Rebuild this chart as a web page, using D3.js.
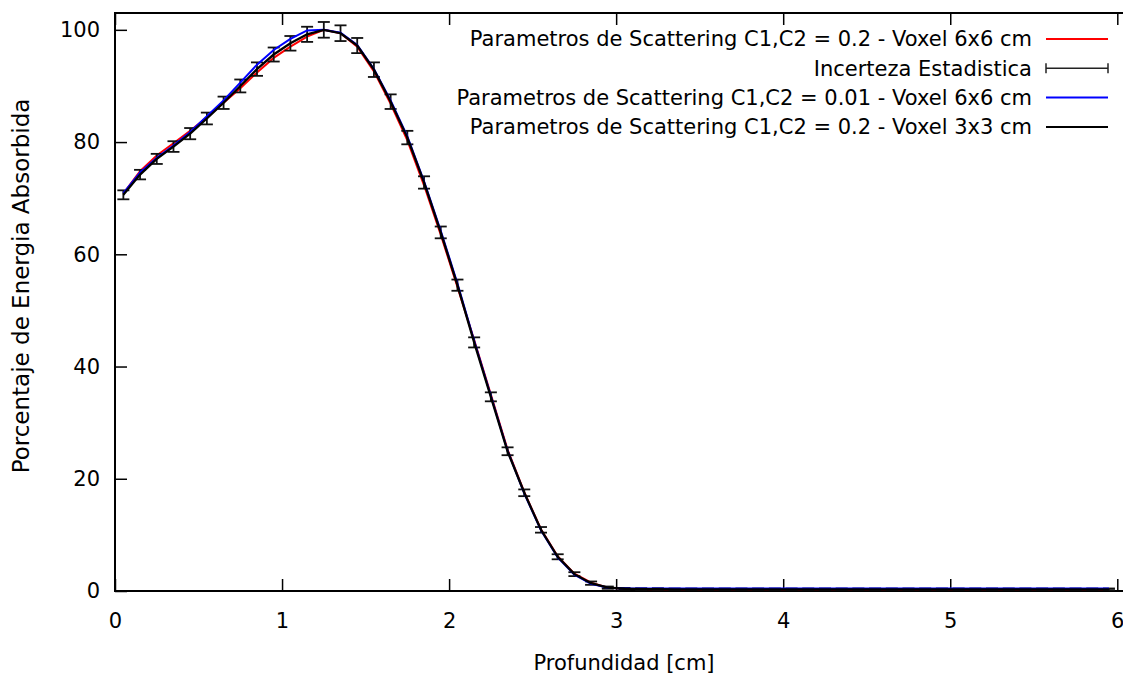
<!DOCTYPE html>
<html>
<head>
<meta charset="utf-8">
<script src="https://cdn.jsdelivr.net/npm/d3@7"></script>
<style>
  body { margin: 0; background: #fff; }
  text { font-family: "DejaVu Sans", Verdana, sans-serif; }
</style>
</head>
<body>
<div id="chart"></div>
<script>
// profundidad (cm), centro de cada bin de 1 mm
const depth = [
  0.05, 0.15, 0.25, 0.35, 0.45, 0.55, 0.65, 0.75, 0.85, 0.95,
  1.05, 1.15, 1.25, 1.35, 1.45, 1.55, 1.65, 1.75, 1.85, 1.95,
  2.05, 2.15, 2.25, 2.35, 2.45, 2.55, 2.65, 2.75, 2.85, 2.95,
  3.05, 3.15, 3.25, 3.35, 3.45, 3.55, 3.65, 3.75, 3.85, 3.95,
  4.05, 4.15, 4.25, 4.35, 4.45, 4.55, 4.65, 4.75, 4.85, 4.95,
  5.05, 5.15, 5.25, 5.35, 5.45, 5.55, 5.65, 5.75, 5.85, 5.95,
];

// C1,C2 = 0.2 - voxel 6x6 cm
const red = [
  70.8, 74.8, 77.6, 79.8, 82.0, 84.4, 87.0, 89.6, 92.4, 95.0,
  97.0, 98.8, 100.0, 99.4, 97.0, 92.6, 86.8, 80.3, 72.3, 63.5,
  54.2, 44.7, 35.0, 25.2, 17.6, 11.0, 6.2, 3.1, 1.5, 0.6,
  0.4, 0.35, 0.3, 0.3, 0.3, 0.3, 0.3, 0.3, 0.3, 0.3,
  0.3, 0.3, 0.3, 0.3, 0.3, 0.3, 0.3, 0.3, 0.3, 0.3,
  0.3, 0.3, 0.3, 0.3, 0.3, 0.3, 0.3, 0.3, 0.3, 0.3,
];

// C1,C2 = 0.01 - voxel 6x6 cm
const blue = [
  70.9, 74.6, 77.2, 79.4, 81.8, 84.6, 87.4, 90.6, 93.8, 96.4,
  98.4, 99.9, 100.0, 99.5, 97.3, 93.0, 87.4, 81.0, 73.0, 64.2,
  54.8, 44.6, 34.8, 25.0, 17.4, 10.8, 6.0, 2.9, 1.3, 0.6,
  0.45, 0.45, 0.45, 0.45, 0.45, 0.45, 0.45, 0.45, 0.45, 0.45,
  0.45, 0.45, 0.45, 0.45, 0.45, 0.45, 0.45, 0.45, 0.45, 0.45,
  0.45, 0.45, 0.45, 0.45, 0.45, 0.45, 0.45, 0.45, 0.45, 0.45,
];

// C1,C2 = 0.2 - voxel 3x3 cm
const black = [
  70.6, 74.2, 77.0, 79.2, 81.5, 84.2, 87.0, 90.0, 93.0, 95.6,
  97.6, 99.2, 100.0, 99.4, 97.2, 92.9, 87.2, 80.8, 72.8, 63.9,
  54.5, 44.3, 34.6, 24.9, 17.5, 10.9, 6.1, 3.0, 1.4, 0.6,
  0.4, 0.35, 0.35, 0.3, 0.3, 0.3, 0.3, 0.3, 0.3, 0.3,
  0.3, 0.3, 0.3, 0.3, 0.3, 0.3, 0.3, 0.3, 0.3, 0.3,
  0.3, 0.3, 0.3, 0.3, 0.3, 0.3, 0.3, 0.3, 0.3, 0.3,
];

// incerteza estadistica (+/-)
const err = [
  0.8, 0.85, 0.9, 0.95, 1.0, 1.05, 1.1, 1.15, 1.2, 1.25,
  1.3, 1.35, 1.4, 1.4, 1.35, 1.3, 1.3, 1.2, 1.1, 1.05,
  1.0, 0.9, 0.8, 0.7, 0.6, 0.5, 0.45, 0.35, 0.3, 0.2,
  0.15, 0.15, 0.15, 0.15, 0.15, 0.15, 0.15, 0.15, 0.15, 0.15,
  0.15, 0.15, 0.15, 0.15, 0.15, 0.15, 0.15, 0.15, 0.15, 0.15,
  0.15, 0.15, 0.15, 0.15, 0.15, 0.15, 0.15, 0.15, 0.15, 0.15,
];

const xTicks = [0, 1, 2, 3, 4, 5, 6];
const yTicks = [0, 20, 40, 60, 80, 100];

const legendLabels = [
  "Parametros de Scattering C1,C2 = 0.2 - Voxel 6x6 cm",
  "Incerteza Estadistica",
  "Parametros de Scattering C1,C2 = 0.01 - Voxel 6x6 cm",
  "Parametros de Scattering C1,C2 = 0.2 - Voxel 3x3 cm",
];

const W = 1123, H = 676;
const margin = { top: 13, left: 115 };
const width = 1019;
const height = 578;

const svg = d3.select("#chart")
  .append("svg")
  .attr("width", W)
  .attr("height", H)
  .style("display", "block");

svg.append("rect").attr("width", W).attr("height", H).attr("fill", "#fff");

const g = svg.append("g")
  .attr("transform", `translate(${margin.left},${margin.top})`);

const x = d3.scaleLinear().domain([0, 6.1]).range([0, width]);
const y = d3.scaleLinear().domain([0, 103]).range([height, 0]);

// axes, ticks inside like gnuplot
const xAxis = g.append("g")
  .attr("transform", `translate(0,${height})`)
  .call(d3.axisBottom(x).tickValues(xTicks).tickFormat(d3.format("d"))
    .tickSize(-12).tickPadding(22));
const yAxis = g.append("g")
  .call(d3.axisLeft(y).tickValues(yTicks).tickSize(-12).tickPadding(15));
const topAxis = g.append("g")
  .call(d3.axisTop(x).tickValues(xTicks).tickFormat("").tickSize(-12));

[xAxis, yAxis, topAxis].forEach((a) => {
  a.select(".domain").remove();
  a.selectAll(".tick line").attr("stroke", "#000").attr("stroke-width", 1.5);
  a.selectAll(".tick text").attr("font-size", 21).attr("fill", "#000");
});

g.append("rect")
  .attr("width", width)
  .attr("height", height)
  .attr("fill", "none")
  .attr("stroke", "#000")
  .attr("stroke-width", 2);

const line = (vals) => d3.line()
  .x((d, i) => x(depth[i]))
  .y((d) => y(d))(vals);

g.append("path").attr("d", line(red))
  .attr("fill", "none").attr("stroke", "#ff0000").attr("stroke-width", 2);

// error bars
const bars = g.append("g").attr("stroke", "#111").attr("stroke-width", 1.8);
depth.forEach((d, i) => {
  const cx = x(d), y1 = y(black[i] + err[i]), y0 = y(black[i] - err[i]);
  bars.append("line").attr("x1", cx).attr("x2", cx).attr("y1", y1).attr("y2", y0);
  bars.append("line").attr("x1", cx - 6).attr("x2", cx + 6).attr("y1", y1).attr("y2", y1);
  bars.append("line").attr("x1", cx - 6).attr("x2", cx + 6).attr("y1", y0).attr("y2", y0);
});

g.append("path").attr("d", line(blue))
  .attr("fill", "none").attr("stroke", "#0000ff").attr("stroke-width", 2);
g.append("path").attr("d", line(black))
  .attr("fill", "none").attr("stroke", "#000").attr("stroke-width", 2.3);

// legend
const legendColors = ["#ff0000", null, "#0000ff", "#000"];
const legend = svg.append("g");
legendLabels.forEach((lab, i) => {
  const ly = 39 + i * 29.3;
  legend.append("text")
    .attr("x", 1032).attr("y", ly).attr("dy", "0.35em")
    .attr("text-anchor", "end").attr("font-size", 21)
    .text(lab);
  if (legendColors[i]) {
    legend.append("line")
      .attr("x1", 1046).attr("x2", 1108).attr("y1", ly).attr("y2", ly)
      .attr("stroke", legendColors[i]).attr("stroke-width", 2);
  } else {
    const eb = legend.append("g").attr("stroke", "#222").attr("stroke-width", 1.5);
    eb.append("line").attr("x1", 1046).attr("x2", 1108).attr("y1", ly).attr("y2", ly);
    eb.append("line").attr("x1", 1046).attr("x2", 1046).attr("y1", ly - 5).attr("y2", ly + 5);
    eb.append("line").attr("x1", 1108).attr("x2", 1108).attr("y1", ly - 5).attr("y2", ly + 5);
  }
});

// axis titles
svg.append("text")
  .attr("x", 624).attr("y", 670)
  .attr("text-anchor", "middle").attr("font-size", 21)
  .text("Profundidad [cm]");
svg.append("text")
  .attr("transform", "translate(29,286) rotate(-90)")
  .attr("text-anchor", "middle").attr("font-size", 23)
  .text("Porcentaje de Energia Absorbida");
</script>
</body>
</html>
